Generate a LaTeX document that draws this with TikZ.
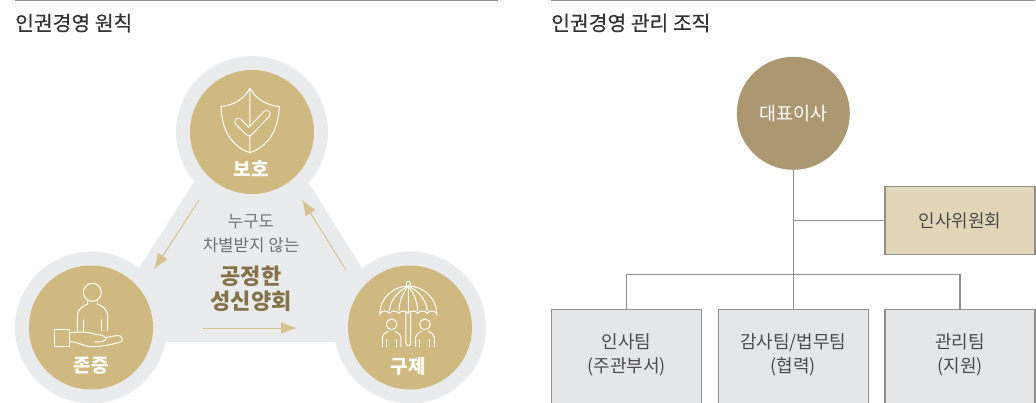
\documentclass[tikz,border=0pt]{standalone}
\usepackage{fontspec}
\setmainfont{Noto Sans CJK KR}
\newfontfamily\titlefont[FakeBold=.5]{Noto Sans CJK KR}
\usetikzlibrary{positioning,arrows.meta}
\definecolor{ringgray}{HTML}{EAEBED}
\definecolor{gold}{HTML}{CFB981}
\definecolor{goldline}{HTML}{D6C291}
\definecolor{ceobrown}{HTML}{AB9870}
\definecolor{cream}{HTML}{E1D6B7}
\definecolor{boxgray}{HTML}{E5E6E8}
\definecolor{linegray}{HTML}{8F8F8F}
\definecolor{brown}{HTML}{857349}
\begin{document}
\begin{tikzpicture}
                [x=1pt,y=-1pt,node distance=15.5pt,
                title/.style={anchor=west,inner sep=0pt,text=black!80,font=\fontsize{20.4}{20}\titlefont},
                ring/.style={circle,fill=ringgray,minimum size=152pt,inner sep=0pt},
                disc/.style={circle,fill=gold,minimum size=124pt,inner sep=0pt},
                disclabel/.style={inner sep=0pt,text=white,font=\fontsize{19}{19}\selectfont\bfseries},
                grey/.style={inner sep=0pt,text=black!55,font=\fontsize{16.8}{17}\selectfont},
                slogan/.style={inner sep=0pt,text=brown,font=\fontsize{22}{22}\selectfont\bfseries},
                team/.style={draw=linegray,line width=1.2pt,fill=boxgray,minimum width=150pt,minimum height=96pt,
                        inner sep=0pt,align=center,text=black!70,text depth=9pt,font=\fontsize{18}{24}\selectfont},
                line/.style={draw=linegray,line width=1.2pt},
                flow/.style={goldline,line width=1pt,-{Latex[length=16pt,width=12pt]}},
                icon/.style={draw=white,line width=1pt,line cap=round,line join=round}]
                \useasboundingbox (0,0) rectangle (1036,402);
                \clip (0,0) rectangle (1036,402);
                % left side
                \coordinate (ruleastart) at (15,.5);
                \coordinate (ruleaend) at (498,.5);
                \draw[linegray,line width=1.2pt] (ruleastart) -- (ruleaend);
                \node[title] (titlea) at (15,23) {인권경영 원칙};
                \node[ring] (ringtop) at (252,132) {};
                \node[ring] (ringleft) at (91,327.5) {};
                \node[ring] (ringright) at (410,327.5) {};
                \fill[ringgray] (194,182) -- (308,182) -- (362,268) -- (335,342) -- (165,342) -- (139,268) -- cycle;
                \node[disc] (protect) at (252,132) {};
                \node[disc] (respect) at (91,327.5) {};
                \node[disc] (relief) at (410,327.5) {};
                \node[disclabel] (protecttext) at (251,169) {보호};
                \node[disclabel] (respecttext) at (91,366) {존중};
                \node[disclabel] (relieftext) at (408,366) {구제};
                \node[grey] (center) at (251,222) {누구도};
                \node[grey,node distance=7.5pt] (centerb) [below=of center] {차별받지 않는};
                \node[slogan,node distance=13pt] (sloga) [below=of centerb] {공정한};
                \node[slogan,node distance=4pt] (slogb) [below=of sloga] {성신양회};
                \coordinate (flowa) at (199,200);
                \coordinate (flowb) at (154,269.5);
                \coordinate (flowc) at (346,270);
                \coordinate (flowd) at (302,199.5);
                \coordinate (flowe) at (203,328);
                \coordinate (flowf) at (297,328);
                \draw[flow] (flowa) -- (flowb);
                \draw[flow] (flowc) -- (flowd);
                \draw[flow] (flowe) -- (flowf);
                % shield
                \begin{scope}[scale=.3333]
                \draw[icon] (750,265) .. controls (730,300) and (700,315) .. (663,320)
                        .. controls (665,390) and (695,440) .. (750,458)
                        .. controls (805,440) and (835,390) .. (838,320)
                        .. controls (800,315) and (770,300) .. (750,265) -- (750,458);
                \draw[white,line width=8pt,line cap=round,line join=round] (715,365) -- (747,397) -- (800,342);
                \draw[gold,line width=6pt,line cap=round,line join=round] (715,365) -- (747,397) -- (800,342);
                \end{scope}
                % person and hand
                \begin{scope}[yshift=-200pt,scale=.3333]
                \draw[icon] (277,277) circle[radius=27];
                \draw[icon] (232,392) -- (232,350) .. controls (232,325) and (250,318) .. (263,312) -- (263,305);
                \draw[icon] (323,392) -- (323,350) .. controls (323,325) and (305,318) .. (292,312) -- (292,305);
                \draw[icon] (250,360) -- (250,392) (305,360) -- (305,392);
                \draw[icon] (165,388) rectangle (210,440);
                \draw[icon] (210,398) .. controls (235,395) and (265,395) .. (285,403)
                        .. controls (300,405) and (315,405) .. (318,415)
                        .. controls (318,425) and (300,426) .. (285,426);
                \draw[icon] (316,413) .. controls (335,410) and (350,405) .. (360,408)
                        .. controls (372,415) and (368,425) .. (355,428)
                        .. controls (330,435) and (300,440) .. (275,440)
                        .. controls (250,440) and (235,425) .. (210,425);
                \end{scope}
                % umbrella and people
                \begin{scope}[yshift=-200pt,scale=.3333]
                \draw[icon] (1140,345) -- (1140,335) .. controls (1142,295) and (1180,258) .. (1225,258)
                        .. controls (1270,258) and (1308,295) .. (1310,335) -- (1310,345);
                \foreach \i in {0,...,5}
                        \draw[icon] ({1140+\i*28.33},340) to[bend left=55] ({1140+(\i+1)*28.33},340);
                \draw[icon] (1225,258) .. controls (1190,275) and (1170,305) .. (1168,332);
                \draw[icon] (1225,258) .. controls (1208,280) and (1198,305) .. (1197,332);
                \draw[icon] (1225,258) .. controls (1242,280) and (1252,305) .. (1253,332);
                \draw[icon] (1225,258) .. controls (1260,275) and (1280,305) .. (1282,332);
                \draw[icon] (1225,258) -- (1225,335);
                \draw[icon] (1219,258) -- (1219,250) arc[start angle=180,end angle=360,radius=6] -- (1231,258);
                \draw[icon] (1218,335) -- (1218,430) arc[start angle=180,end angle=0,radius=7] -- (1232,335);
                \foreach \dx in {0,100}{
                        \draw[icon] ({1175+\dx},373) circle[radius=16];
                        \draw[icon] ({1147+\dx},440) -- ({1147+\dx},412) .. controls ({1147+\dx},402) and ({1155+\dx},400) .. ({1165+\dx},394)
                                ({1203+\dx},440) -- ({1203+\dx},412) .. controls ({1203+\dx},402) and ({1195+\dx},400) .. ({1185+\dx},394);
                        \draw[icon] ({1160+\dx},420) -- ({1160+\dx},440) ({1190+\dx},420) -- ({1190+\dx},440);
                }
                \end{scope}
                % right side
                \coordinate (rulebstart) at (551,.5);
                \coordinate (rulebend) at (1035,.5);
                \draw[linegray,line width=1.2pt] (rulebstart) -- (rulebend);
                \node[title] (titleb) at (551,23) {인권경영 관리 조직};
                \node[circle,fill=ceobrown,minimum size=113pt,inner sep=0pt,text=white,
                        font=\fontsize{18.5}{18}\selectfont] (ceo) at (793.3,113.3) {대표이사};
                \node[team] (audit) at (793.3,357.5) {감사팀/법무팀\\(협력)};
                \node[team] (hr) [left=of audit] {인사팀\\(주관부서)};
                \node[team] (admin) [right=of audit] {관리팀\\(지원)};
                \node[team,fill=cream,minimum height=68pt,text depth=,anchor=center] (committee) at (admin |- 0,220.5) {인사위원회};
                \coordinate (bus) at (ceo |- 0,274.7);
                \draw[line] (ceo.south) -- (audit.north);
                \draw[line] (committee.west) -- (ceo |- committee.west);
                \draw[line] (hr.north) |- (bus) -| (admin.north);
            \end{tikzpicture}
\end{document}
